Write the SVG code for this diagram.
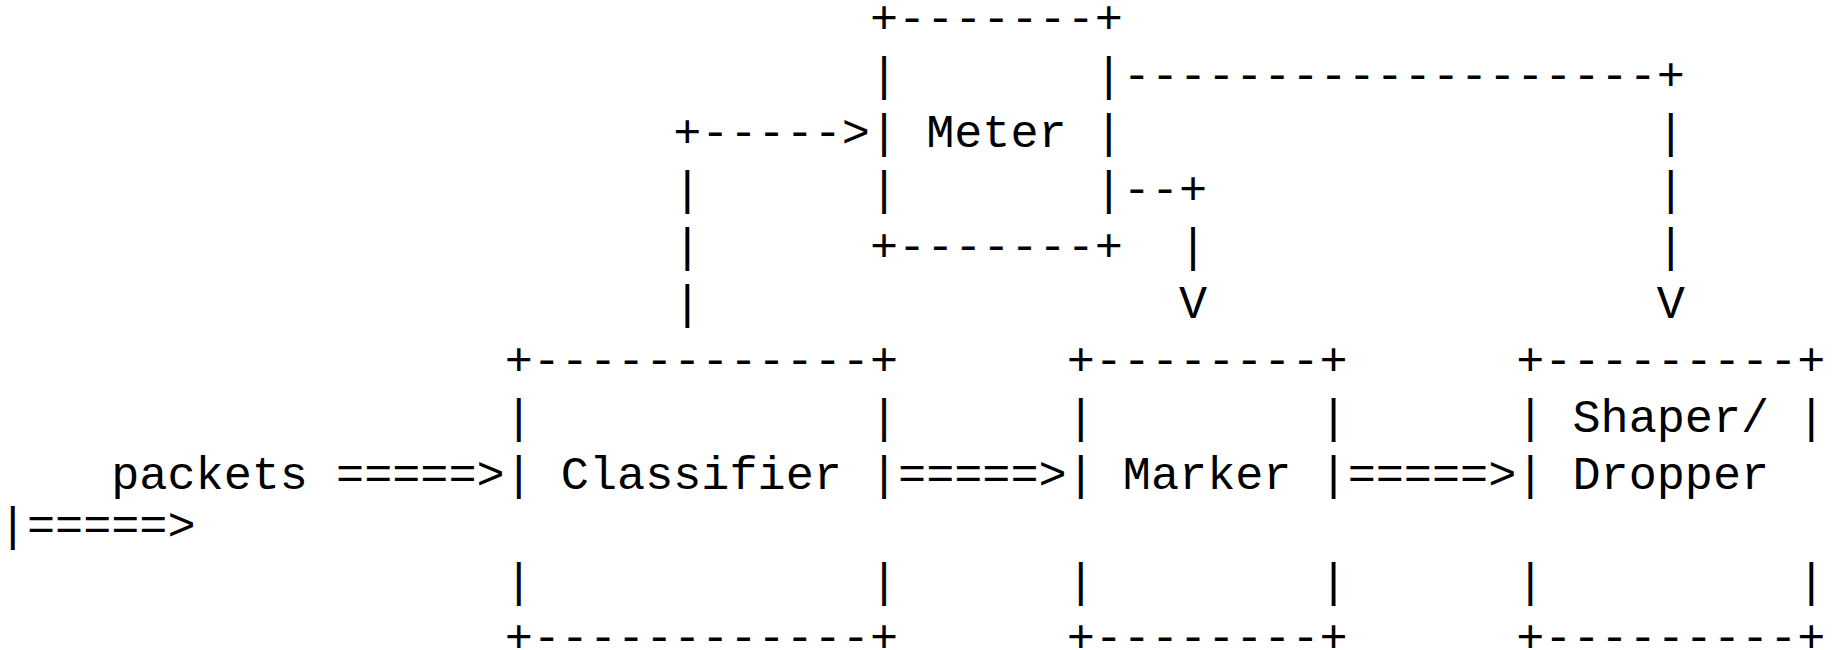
<svg xmlns="http://www.w3.org/2000/svg" width="1834" height="650" viewBox="0 0 1834 650" xml:space="preserve">
<style>
text { font-family: "Liberation Mono", "Courier New", "DejaVu Sans Mono", monospace; font-size: 46.83px; fill: #000; white-space: pre; }
</style>
<rect width="1834" height="650" fill="#fff"/>
<g id="connectors">
  <text x="111.25" y="489.3">packets =====&gt;</text>
  <text x="898.05" y="489.3">=====&gt;</text>
  <text x="1347.65" y="489.3">=====&gt;</text>
  <text x="-1.15" y="539.5">|=====&gt;</text>
  <text x="673.25" y="146.7">+-----&gt;</text>
  <text x="673.25" y="203.8">|</text>
  <text x="673.25" y="260.9">|</text>
  <text x="673.25" y="318">|</text>
  <text x="1122.85" y="203.8">--+</text>
  <text x="1179.05" y="260.9">|</text>
  <text x="1179.05" y="318">V</text>
  <text x="1122.85" y="89.5">-------------------+</text>
  <text x="1656.75" y="146.7">|</text>
  <text x="1656.75" y="203.8">|</text>
  <text x="1656.75" y="260.9">|</text>
  <text x="1656.75" y="318">V</text>
</g>
<g id="meter">
  <text x="869.95" y="32.5">+-------+</text>
  <text x="869.95" y="89.5">|       |</text>
  <text x="869.95" y="146.7">| Meter |</text>
  <text x="869.95" y="203.8">|       |</text>
  <text x="869.95" y="260.9">+-------+</text>
</g>
<g id="classifier">
  <text x="504.65" y="375.1">+------------+</text>
  <text x="504.65" y="432.2">|            |</text>
  <text x="504.65" y="489.3">| Classifier |</text>
  <text x="504.65" y="596.2">|            |</text>
  <text x="504.65" y="652.4">+------------+</text>
</g>
<g id="marker">
  <text x="1066.65" y="375.1">+--------+</text>
  <text x="1066.65" y="432.2">|        |</text>
  <text x="1066.65" y="489.3">| Marker |</text>
  <text x="1066.65" y="596.2">|        |</text>
  <text x="1066.65" y="652.4">+--------+</text>
</g>
<g id="shaper-dropper">
  <text x="1516.25" y="375.1">+---------+</text>
  <text x="1516.25" y="432.2">| Shaper/ |</text>
  <text x="1516.25" y="489.3">| Dropper</text>
  <text x="1516.25" y="596.2">|         |</text>
  <text x="1516.25" y="652.4">+---------+</text>
</g>
</svg>
